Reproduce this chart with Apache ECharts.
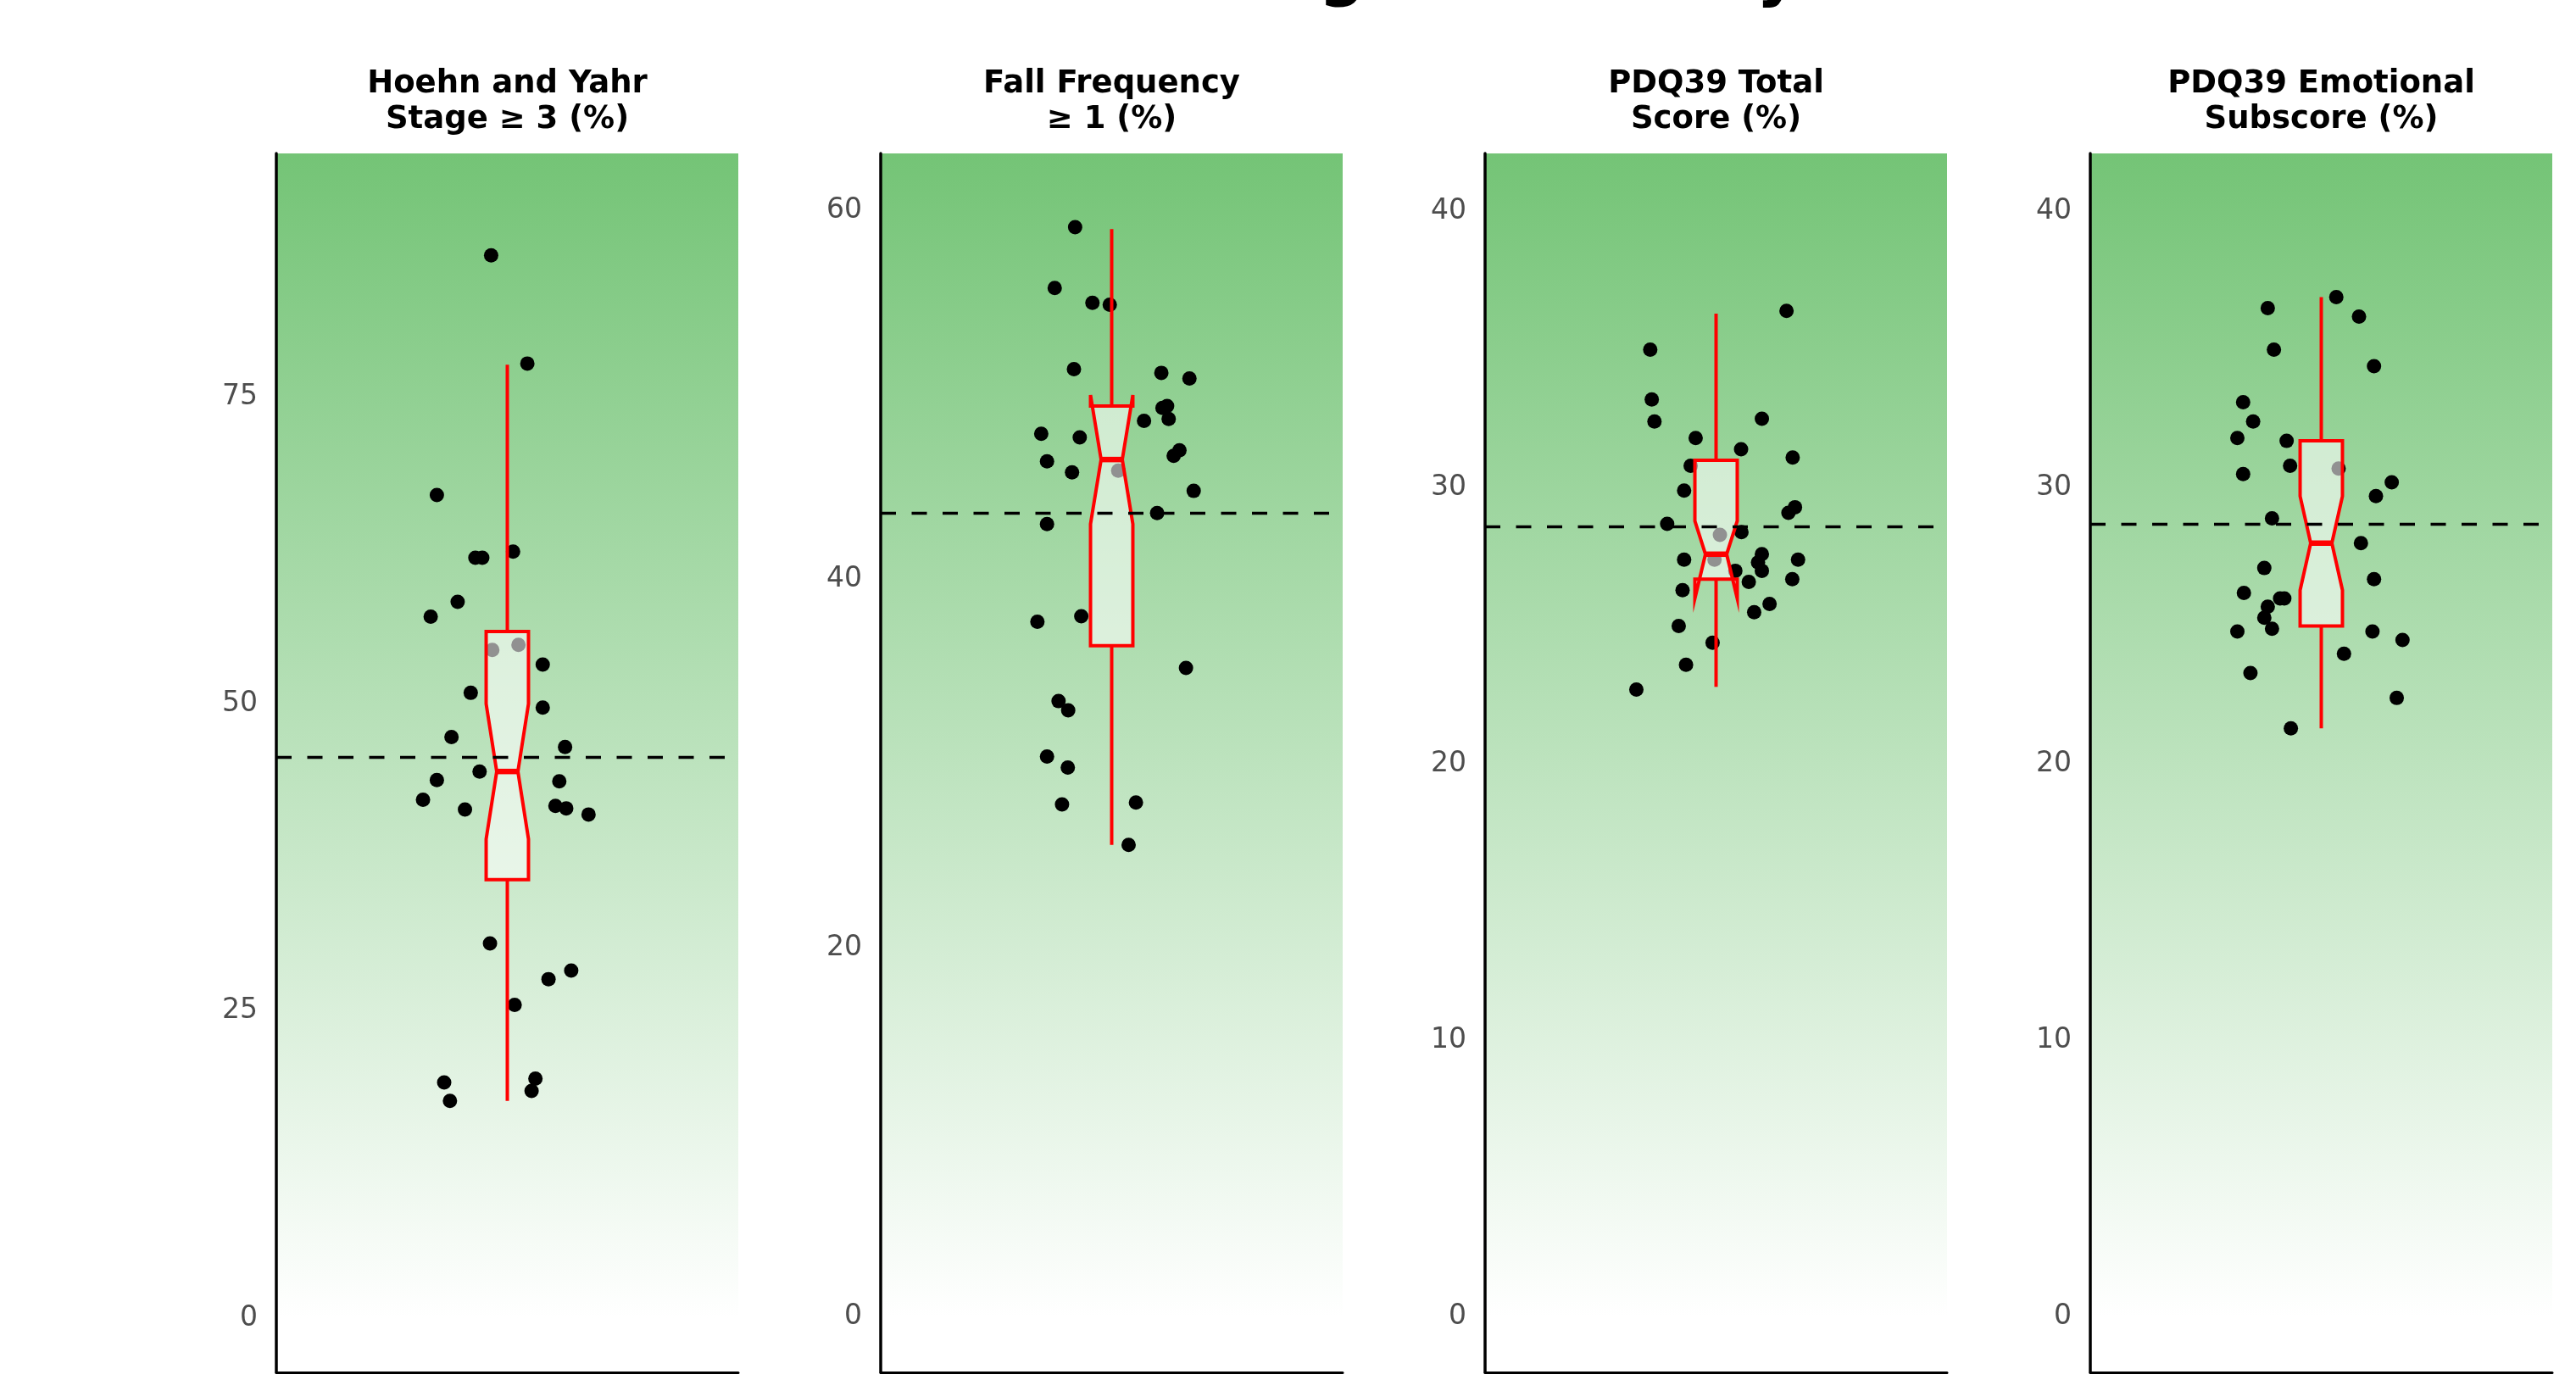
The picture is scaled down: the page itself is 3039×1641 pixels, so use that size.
<!DOCTYPE html>
<html>
<head>
<meta charset="utf-8">
<script src="https://cdn.jsdelivr.net/npm/echarts@6/dist/echarts.min.js"></script>
<style>
html,body{margin:0;padding:0;background:#fff;}
#chart{width:3039px;height:1641px;}
</style>
</head>
<body>
<div id="chart"></div>
<script>
// ---------- data ----------
const mainTitle = 'Data from Long-term Study';
const panelTitles = [
  'Hoehn and Yahr\nStage \u2265 3 (%)',
  'Fall Frequency\n\u2265 1 (%)',
  'PDQ39 Total\nScore (%)',
  'PDQ39 Emotional\nSubscore (%)'
];

// study-level values (y) and horizontal jitter offsets (x, around category position 1)
const hyValues = [86.5, 77.7, 67.0, 61.9, 61.9, 62.4, 58.3, 57.1, 54.4, 54.8, 53.2, 50.9, 49.7, 47.3, 46.5, 43.8,
  44.5, 42.2, 43.7, 41.4, 41.7, 41.5, 41.0, 30.5, 28.3, 27.6, 25.5, 19.2, 17.7, 19.5, 18.5];
const hyJitter = [-0.042, 0.052, -0.183, -0.083, -0.065, 0.015, -0.129, -0.199, -0.039, 0.029, 0.092, -0.095, 0.092, -0.145, 0.150, -0.183,
  -0.072, -0.219, 0.135, -0.110, 0.125, 0.153, 0.211, -0.045, 0.166, 0.107, 0.019, -0.164, -0.149, 0.073, 0.063];

const fallValues = [59.1, 55.8, 55.0, 54.9, 51.4, 51.2, 50.9, 49.3, 49.4, 48.7, 48.6, 47.9, 47.7, 47.0, 46.7, 46.4,
  45.8, 45.9, 44.8, 43.6, 43.0, 37.7, 38.0, 35.2, 33.4, 32.9, 30.4, 29.8, 27.8, 27.9, 25.6];
const fallJitter = [-0.095, -0.148, -0.050, -0.005, -0.098, 0.129, 0.202, 0.132, 0.144, 0.148, 0.084, -0.183, -0.083, 0.176, 0.161, -0.168,
  -0.103, 0.017, 0.213, 0.118, -0.168, -0.193, -0.079, 0.193, -0.138, -0.113, -0.168, -0.114, -0.129, 0.063, 0.044];

const pdqTotalValues = [36.4, 35.0, 33.2, 32.4, 32.5, 31.8, 31.4, 31.1, 30.8, 29.9, 29.3, 29.1, 28.7, 28.4, 28.3, 27.6,
  27.4, 27.4, 27.3, 27.0, 27.4, 27.0, 26.7, 26.6, 26.3, 25.8, 25.5, 25.0, 24.4, 23.6, 22.7];
const pdqTotalJitter = [0.183, -0.171, -0.167, -0.160, 0.119, -0.053, 0.065, 0.199, -0.066, -0.083, 0.205, 0.188, -0.127, 0.066, 0.010, 0.119,
  -0.083, -0.004, 0.109, 0.119, 0.213, 0.050, 0.198, 0.085, -0.087, 0.139, 0.099, -0.097, -0.009, -0.078, -0.207];

const pdqEmoValues = [36.9, 36.5, 36.2, 35.0, 34.4, 33.1, 32.4, 31.8, 31.7, 30.8, 30.7, 30.5, 30.2, 29.7, 28.9, 28.0,
  27.1, 26.7, 26.2, 26.0, 26.0, 25.7, 25.3, 24.9, 24.8, 24.8, 24.5, 24.0, 23.3, 22.4, 21.3];
const pdqEmoJitter = [0.039, -0.139, 0.098, -0.123, 0.137, -0.203, -0.177, -0.218, -0.090, -0.081, 0.045, -0.203, 0.183, 0.142, -0.128, 0.103,
  -0.148, 0.137, -0.201, -0.107, -0.096, -0.139, -0.148, -0.128, -0.218, 0.133, 0.211, 0.059, -0.184, 0.196, -0.079];

// notched box stats: [whiskerLow, Q1, notchLow, median, notchHigh, Q3, whiskerHigh]
const hyBox = [17.7, 35.7, 39.0, 44.5, 50.0, 55.9, 77.6];
const fallBox = [25.6, 36.4, 43.0, 46.5, 50.0, 49.4, 59.0];
const pdqTotalBox = [22.8, 26.7, 26.0, 27.6, 28.8, 31.0, 36.3];
const pdqEmoBox = [21.3, 25.0, 26.3, 28.0, 29.7, 31.7, 36.9];

// dashed reference lines
const refLines = [45.7, 43.6, 28.6, 28.7];

// y-axis ranges and tick labels
const yMins = [-4.4, -3.0, -2.0, -2.0];
const yMaxs = [94.8, 63.1, 42.1, 42.1];
const hyTicks = [0, 25, 50, 75];
const fallTicks = [0, 20, 40, 60];
const pdqTotalTicks = [0, 10, 20, 30, 40];
const pdqEmoTicks = [0, 10, 20, 30, 40];

// ---------- build ----------
const valuesList = [hyValues, fallValues, pdqTotalValues, pdqEmoValues];
const jitterList = [hyJitter, fallJitter, pdqTotalJitter, pdqEmoJitter];
const boxList = [hyBox, fallBox, pdqTotalBox, pdqEmoBox];
const tickList = [hyTicks, fallTicks, pdqTotalTicks, pdqEmoTicks];

const gridLefts = [326, 1039, 1752, 2466];
const gridWidth = 545;
const gridTop = 181;
const gridHeight = 1438;
const BOX_HALF = 0.055;
const zeroFrac = [];
for (let i = 0; i < 4; i++) {
  zeroFrac.push(yMaxs[i] / (yMaxs[i] - yMins[i]));
}

const grids = [], xAxes = [], yAxes = [], series = [], titles = [];

titles.push({
  text: mainTitle,
  left: 1533, top: -66, padding: 0, textAlign: 'center',
  textStyle: {fontFamily: 'DejaVu Sans', fontWeight: 'bold', fontSize: 76, lineHeight: 76, color: '#000'}
});

function renderBox(params, api) {
  const x = api.value(0);
  const wl = api.value(1), q1 = api.value(2), nl = api.value(3), med = api.value(4),
        nh = api.value(5), q3 = api.value(6), wh = api.value(7);
  const hw = BOX_HALF, ind = BOX_HALF * 0.5;
  const P = (xx, yy) => api.coord([xx, yy]);
  const poly = [P(x - hw, q3), P(x - hw, nh), P(x - hw + ind, med), P(x - hw, nl), P(x - hw, q1),
                P(x + hw, q1), P(x + hw, nl), P(x + hw - ind, med), P(x + hw, nh), P(x + hw, q3)];
  const c = P(x, q3), cw = P(x, wh), c1 = P(x, q1), cwl = P(x, wl);
  const m1 = P(x - hw + ind, med), m2 = P(x + hw - ind, med);
  return {
    type: 'group',
    children: [
      {type: 'line', shape: {x1: c[0], y1: c[1], x2: cw[0], y2: cw[1]}, style: {stroke: '#ff0000', lineWidth: 4}},
      {type: 'line', shape: {x1: c1[0], y1: c1[1], x2: cwl[0], y2: cwl[1]}, style: {stroke: '#ff0000', lineWidth: 4}},
      {type: 'polygon', shape: {points: poly}, style: {fill: 'rgba(255,255,255,0.57)', stroke: '#ff0000', lineWidth: 4, lineJoin: 'miter'}},
      {type: 'line', shape: {x1: m1[0], y1: m1[1], x2: m2[0], y2: m2[1]}, style: {stroke: '#ff0000', lineWidth: 6.5}}
    ]
  };
}

for (let i = 0; i < 4; i++) {
  grids.push({
    left: gridLefts[i], top: gridTop, width: gridWidth, height: gridHeight,
    show: true, borderWidth: 0,
    backgroundColor: {
      type: 'linear', x: 0, y: 0, x2: 0, y2: 1,
      colorStops: [
        {offset: 0, color: 'rgb(116,196,118)'},
        {offset: zeroFrac[i], color: '#ffffff'},
        {offset: 1, color: '#ffffff'}
      ]
    }
  });
  xAxes.push({
    gridIndex: i, type: 'value', min: 0.4, max: 1.6,
    axisLine: {show: true, onZero: false, lineStyle: {color: '#000', width: 3}},
    axisTick: {show: false}, axisLabel: {show: false}, splitLine: {show: false}
  });
  yAxes.push({
    gridIndex: i, type: 'value', min: yMins[i], max: yMaxs[i],
    axisLine: {show: true, onZero: false, lineStyle: {color: '#000', width: 3.5}},
    axisTick: {show: false, customValues: tickList[i]},
    axisLabel: {show: true, customValues: tickList[i], margin: 22, color: '#4d4d4d',
      fontFamily: 'DejaVu Sans', fontSize: 33},
    splitLine: {show: false}
  });
  titles.push({
    text: panelTitles[i],
    left: gridLefts[i] + gridWidth / 2, top: 78, padding: 0, textAlign: 'center',
    textStyle: {fontFamily: 'DejaVu Sans', fontWeight: 'bold', fontSize: 37, lineHeight: 42.4, color: '#000'}
  });
  const pts = valuesList[i].map((v, k) => [1 + jitterList[i][k], v]);
  series.push({
    type: 'scatter', xAxisIndex: i, yAxisIndex: i, z: 2,
    data: pts, symbol: 'circle', symbolSize: 17,
    itemStyle: {color: '#000', opacity: 1},
    silent: true
  });
  const b = boxList[i];
  series.push({
    type: 'custom', xAxisIndex: i, yAxisIndex: i, z: 3,
    data: [[1, b[0], b[1], b[2], b[3], b[4], b[5], b[6]]],
    encode: {x: 0, y: [1, 7]},
    renderItem: renderBox,
    silent: true,
    markLine: {
      silent: true, symbol: ['none', 'none'], z: 6,
      label: {show: false},
      lineStyle: {color: '#000', width: 3.3, type: [18, 18.5]},
      data: [{yAxis: refLines[i]}]
    }
  });
}

const chart = echarts.init(document.getElementById('chart'), null, {renderer: 'canvas'});
chart.setOption({
  animation: false,
  backgroundColor: '#ffffff',
  title: titles,
  grid: grids,
  xAxis: xAxes,
  yAxis: yAxes,
  series: series
});
</script>
</body>
</html>
